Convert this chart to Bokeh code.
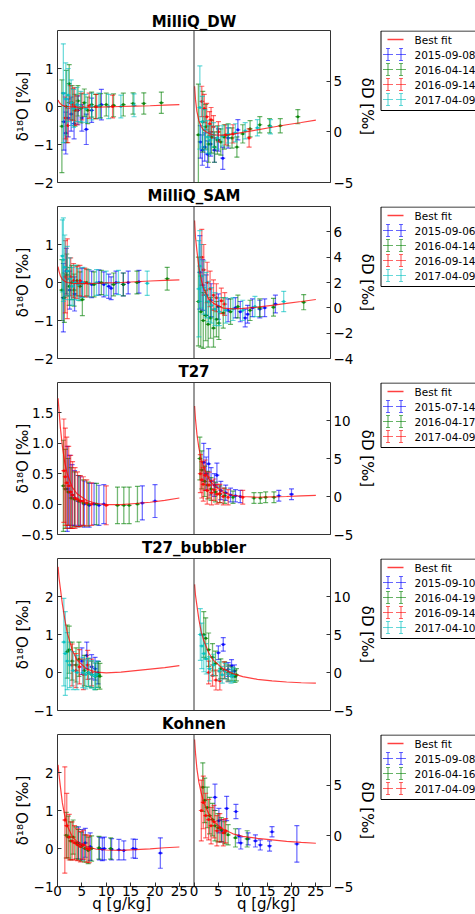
import numpy as np
from bokeh.plotting import figure
from bokeh.models import (Range1d, LinearAxis, FixedTicker, CustomJSTickFormatter,
                          ColumnDataSource, Span, Title)
from bokeh.core.properties import value
from bokeh.layouts import column, row
from bokeh.embed import file_html
from bokeh.resources import INLINE

FONT = "DejaVu Sans"
BLUE, GREEN, RED, CYAN = "#0000ff", "#008000", "#ff0000", "#00bfbf"

# ---------------- fit curves (q grid shared) ----------------
FIT_q = [0.12, 0.3, 0.6, 1.0, 1.5, 2.0, 3.0, 4.0, 6.0, 8.0, 10.0, 13.0, 16.0, 19.0, 22.0, 25.0]
DW_fit_o = [0.17, 0.12, 0.07, 0.03, 0.01, 0.0, -0.01, -0.02, -0.02, -0.02, -0.01, 0.0, 0.01, 0.02, 0.035, 0.05]
DW_fit_d = [4.5, 3.2, 2.0, 1.1, 0.5, 0.15, -0.15, -0.3, -0.33, -0.22, -0.05, 0.2, 0.45, 0.7, 0.92, 1.15]
SAM_fit_o = [0.42, 0.3, 0.17, 0.08, 0.03, 0.0, -0.02, -0.03, -0.03, -0.02, -0.01, 0.0, 0.02, 0.04, 0.055, 0.07]
SAM_fit_d = [6.9, 5.6, 4.5, 3.2, 2.2, 1.5, 0.7, 0.35, -0.02, -0.08, -0.05, 0.05, 0.2, 0.35, 0.5, 0.66]
T27_fit_o = [1.74, 1.55, 1.25, 0.95, 0.68, 0.5, 0.28, 0.17, 0.06, 0.01, -0.01, -0.01, 0.01, 0.03, 0.06, 0.1]
T27_fit_d = [11.9, 10.2, 8.2, 6.4, 4.9, 3.8, 2.4, 1.5, 0.55, 0.15, 0.0, -0.1, -0.05, 0.0, 0.08, 0.15]
BUB_fit_o = [2.78, 2.5, 2.2, 1.8, 1.4, 1.05, 0.6, 0.33, 0.09, 0.01, -0.01, 0.01, 0.05, 0.09, 0.13, 0.18]
BUB_fit_d = [11.6, 10.2, 8.8, 7.0, 5.3, 4.2, 2.6, 1.6, 0.45, -0.15, -0.55, -0.9, -1.1, -1.25, -1.35, -1.4]
KOH_fit_o = [2.2, 1.95, 1.62, 1.2, 0.85, 0.6, 0.32, 0.18, 0.05, -0.02, -0.04, -0.05, -0.03, -0.01, 0.02, 0.04]
KOH_fit_d = [9.5, 8.2, 6.6, 5.3, 4.2, 3.3, 2.2, 1.4, 0.65, 0.2, -0.05, -0.25, -0.4, -0.55, -0.65, -0.73]

# ---------------- MilliQ_DW ----------------
DW_0908_q = [1.3, 1.7, 2.2, 2.8, 3.4, 4.2, 5.0, 5.9, 7.0, 9.0]
DW_0908_o = [-0.40, -0.70, -0.30, -0.20, -0.45, -0.10, -0.30, -0.60, -0.10, 0.05]
DW_0908_oe = [0.75, 0.55, 0.50, 0.45, 0.40, 0.38, 0.35, 0.40, 0.32, 0.40]
DW_0908_d = [-1.0, -1.8, -1.5, -2.2, -1.2, -1.8, -0.8, -2.6, -0.6, 0.2]
DW_0908_de = [1.6, 1.5, 1.4, 1.3, 1.2, 1.2, 1.1, 1.1, 1.0, 1.0]

DW_0414_q = [0.9, 1.8, 2.4, 3.0, 3.6, 4.2, 4.8, 5.5, 6.2, 7.0, 7.8, 8.8, 10.0, 11.5, 13.5, 15.5, 17.7, 21.3]
DW_0414_o = [-0.52, 0.0, 0.6, 0.1, -0.1, 0.15, -0.05, 0.1, -0.1, 0.05, 0.0, 0.02, 0.05, 0.03, 0.05, 0.08, 0.08, 0.1]
DW_0414_oe = [1.22, 0.95, 0.5, 0.45, 0.42, 0.4, 0.38, 0.36, 0.35, 0.33, 0.32, 0.32, 0.3, 0.3, 0.3, 0.28, 0.28, 0.28]
DW_0414_d = [-0.3, 1.0, 0.5, -1.2, -0.5, -1.5, -0.8, -1.0, -0.5, -0.3, -0.6, -1.5, -0.2, 0.3, 0.7, 0.6, 0.6, 1.5]
DW_0414_de = [5.0, 3.0, 2.2, 1.8, 1.6, 1.5, 1.4, 1.3, 1.2, 1.1, 1.0, 1.0, 0.9, 0.8, 0.8, 0.7, 0.7, 0.7]

DW_0914_q = [1.6, 2.1, 2.6, 3.2, 3.5, 4.0, 5.0, 6.5, 8.0, 11.3]
DW_0914_o = [-0.3, -0.5, 0.1, 0.05, 0.0, -0.1, 0.0, 0.02, 0.0, 0.0]
DW_0914_oe = [0.55, 0.45, 0.45, 0.42, 0.5, 0.38, 0.35, 0.33, 0.32, 0.3]
DW_0914_d = [3.0, 2.3, 1.5, 0.8, 1.2, 0.5, 0.0, -0.3, -0.2, -0.6]
DW_0914_de = [1.5, 1.4, 1.3, 1.2, 1.2, 1.1, 1.0, 1.0, 0.9, 0.9]

DW_0409_q = [1.2, 1.7, 2.2, 2.8, 3.3, 4.0, 4.8, 5.8, 7.0, 8.5, 10.5, 13.0, 15.7]
DW_0409_o = [0.35, 0.2, 0.3, 0.1, -0.05, 0.05, 0.0, -0.05, 0.0, 0.02, 0.0, 0.0, 0.03]
DW_0409_oe = [1.3, 0.95, 0.7, 0.6, 0.5, 0.45, 0.4, 0.37, 0.35, 0.33, 0.32, 0.3, 0.3]
DW_0409_d = [2.4, 1.0, 0.2, -0.5, -0.8, -0.3, -0.6, -0.4, -0.2, -0.1, 0.1, 0.4, 0.5]
DW_0409_de = [4.1, 2.5, 2.0, 1.6, 1.4, 1.2, 1.1, 1.0, 0.9, 0.9, 0.8, 0.8, 0.7]

# ---------------- MilliQ_SAM ----------------
SAM_0906_q = [1.2, 1.8, 2.5, 3.5, 5.0, 7.0, 8.5, 9.5, 10.5, 11.0, 12.0, 13.5, 14.5, 16.7]
SAM_0906_o = [-0.4, 0.3, -0.2, -0.3, 0.0, -0.05, 0.0, -0.05, -0.1, -0.15, 0.0, -0.05, 0.0, 0.02]
SAM_0906_oe = [0.9, 0.6, 0.5, 0.45, 0.38, 0.35, 0.33, 0.33, 0.32, 0.3, 0.3, 0.3, 0.3, 0.3]
SAM_0906_d = [2.8, 1.8, 1.0, 0.6, 0.1, -0.2, 0.0, -0.3, -0.8, -0.5, 0.0, -0.1, 0.0, 0.3]
SAM_0906_de = [2.9, 2.0, 1.6, 1.3, 1.0, 0.9, 0.8, 0.8, 0.7, 0.7, 0.7, 0.7, 0.7, 0.7]

SAM_0414_q = [0.9, 1.4, 1.9, 2.4, 2.9, 3.4, 4.0, 4.6, 5.1, 6.0, 7.5, 9.0, 11.5, 13.5, 16.3, 22.5]
SAM_0414_o = [-0.2, -0.4, 0.2, -0.1, 0.0, -0.2, 0.05, -0.1, -0.45, 0.0, -0.05, 0.0, -0.05, -0.05, 0.0, 0.1]
SAM_0414_oe = [0.8, 0.65, 0.55, 0.5, 0.45, 0.42, 0.4, 0.38, 0.42, 0.35, 0.33, 0.32, 0.3, 0.3, 0.3, 0.3]
SAM_0414_d = [0.5, -0.3, -1.0, -0.6, -1.3, -0.8, -1.6, -0.9, -1.2, -0.4, -0.3, 0.1, -0.2, 0.0, 0.05, 0.45]
SAM_0414_de = [3.5, 2.8, 2.2, 2.0, 1.8, 1.6, 1.5, 1.4, 1.3, 1.2, 1.0, 0.9, 0.8, 0.7, 0.7, 0.6]

SAM_0914_q = [1.6, 2.0, 2.7, 3.3, 4.0, 4.6, 5.6, 6.3]
SAM_0914_o = [0.15, 0.1, 0.15, 0.05, 0.0, 0.05, 0.0, -0.02]
SAM_0914_oe = [0.95, 1.05, 0.5, 0.45, 0.42, 0.4, 0.38, 0.36]
SAM_0914_d = [4.0, 3.0, 2.0, 1.5, 1.0, 0.8, 0.55, 0.3]
SAM_0914_de = [2.2, 2.0, 1.6, 1.4, 1.2, 1.1, 1.0, 0.9]

SAM_0409_q = [1.0, 1.2, 1.5, 2.0, 2.5, 3.0, 3.6, 4.3, 5.2, 6.5, 8.0, 10.0, 12.5, 18.4]
SAM_0409_o = [0.7, 0.6, 0.4, 0.3, 0.1, -0.1, 0.0, -0.05, 0.0, -0.02, 0.0, -0.02, 0.0, -0.02]
SAM_0409_oe = [0.95, 1.1, 0.85, 0.65, 0.55, 0.5, 0.45, 0.42, 0.4, 0.36, 0.34, 0.32, 0.32, 0.32]
SAM_0409_d = [1.5, 3.3, 2.5, 1.6, 1.0, 0.5, 0.2, -0.1, -0.3, -0.2, -0.1, -0.2, 0.1, 0.5]
SAM_0409_de = [3.8, 2.8, 2.5, 2.1, 1.8, 1.6, 1.4, 1.3, 1.1, 1.0, 0.9, 0.8, 0.8, 0.8]

# ---------------- T27 ----------------
T27_0714_q = [2.0, 2.5, 3.0, 3.5, 4.2, 4.7, 5.5, 6.5, 7.5, 8.5, 9.5, 17.4, 20.0]
T27_0714_o = [0.25, 0.2, 0.15, 0.1, 0.05, 0.05, 0.0, -0.02, 0.0, -0.02, 0.0, 0.02, 0.05]
T27_0714_oe = [0.7, 0.6, 0.5, 0.45, 0.42, 0.4, 0.38, 0.36, 0.34, 0.33, 0.32, 0.28, 0.27]
T27_0714_d = [4.5, 3.0, 4.3, 2.0, 1.5, 2.8, 0.8, 0.5, 0.2, 0.1, 0.0, 0.1, 0.3]
T27_0714_de = [2.5, 2.2, 2.0, 1.8, 1.5, 1.6, 1.2, 1.0, 0.9, 0.8, 0.8, 0.7, 0.7]

T27_0417_q = [1.2, 1.6, 2.2, 2.8, 3.5, 4.4, 5.3, 6.3, 8.0, 12.3, 13.6, 14.7, 16.4]
T27_0417_o = [0.3, 0.25, 0.2, 0.1, 0.08, 0.05, 0.02, 0.0, 0.0, -0.02, -0.02, -0.02, 0.0]
T27_0417_oe = [0.75, 0.65, 0.55, 0.5, 0.45, 0.42, 0.38, 0.36, 0.34, 0.3, 0.3, 0.3, 0.29]
T27_0417_d = [5.0, 3.5, 2.0, 1.5, 1.0, 0.6, 0.3, 0.1, -0.1, -0.2, -0.2, -0.1, -0.1]
T27_0417_de = [2.8, 2.5, 2.0, 1.8, 1.5, 1.3, 1.1, 1.0, 0.8, 0.7, 0.7, 0.7, 0.7]

T27_0409_q = [1.3, 1.6, 1.9, 2.3, 2.7, 3.1, 3.6, 4.1, 4.7, 5.3, 6.0, 7.0, 10.0]
T27_0409_o = [0.55, 0.45, 0.35, 0.3, 0.2, 0.15, 0.1, 0.08, 0.05, 0.05, 0.02, 0.0, -0.02]
T27_0409_oe = [0.85, 0.8, 0.75, 0.65, 0.6, 0.55, 0.5, 0.45, 0.42, 0.4, 0.38, 0.35, 0.32]
T27_0409_d = [3.0, 2.2, 1.6, 2.8, 0.8, 1.5, 0.5, 0.9, 0.3, 0.4, 0.0, -0.1, -0.1]
T27_0409_de = [2.5, 2.4, 2.2, 2.0, 1.8, 1.7, 1.6, 1.4, 1.3, 1.2, 1.1, 1.0, 0.9]

# ---------------- T27_bubbler ----------------
BUB_0910_q = [5.0, 6.0, 7.0, 7.7, 8.3]
BUB_0910_o = [0.3, 0.45, 0.15, 0.1, 0.0]
BUB_0910_oe = [0.35, 0.35, 0.32, 0.3, 0.3]
BUB_0910_d = [2.6, 3.7, 0.4, 0.9, 0.2]
BUB_0910_de = [0.9, 0.9, 0.9, 0.8, 0.8]

BUB_0419_q = [2.0, 2.4, 3.0, 3.8, 4.4, 5.5, 6.3, 7.0, 7.8, 8.4, 8.7]
BUB_0419_o = [0.55, 0.6, 0.3, 0.2, 0.35, 0.05, 0.0, -0.05, -0.1, -0.05, -0.1]
BUB_0419_oe = [0.7, 0.62, 0.5, 0.45, 0.45, 0.4, 0.37, 0.35, 0.35, 0.34, 0.34]
BUB_0419_d = [5.0, 4.5, 3.0, 2.0, 1.2, 0.5, 0.3, 0.0, -0.2, -0.5, -0.3]
BUB_0419_de = [3.0, 2.7, 2.2, 1.8, 1.6, 1.3, 1.1, 1.0, 0.9, 0.8, 0.8]

BUB_0914_q = [3.0, 3.8, 4.5, 5.3, 6.2, 7.0]
BUB_0914_o = [0.2, 0.05, 0.15, -0.05, 0.2, 0.0]
BUB_0914_oe = [0.55, 0.45, 0.45, 0.4, 0.38, 0.35]
BUB_0914_d = [0.0, -0.4, -1.0, -1.1, 0.3, -0.2]
BUB_0914_de = [1.5, 1.4, 1.3, 1.2, 1.1, 1.0]

BUB_0410_q = [1.3, 1.6, 2.0, 2.5, 3.2, 4.0, 5.2, 5.8, 6.4, 7.0, 7.6, 8.1]
BUB_0410_o = [0.8, 0.5, 0.3, 0.2, 0.05, 0.0, 0.0, -0.05, 0.0, -0.05, -0.1, -0.05]
BUB_0410_oe = [1.15, 1.1, 0.75, 0.6, 0.5, 0.45, 0.4, 0.38, 0.37, 0.36, 0.35, 0.35]
BUB_0410_d = [5.0, 3.5, 2.5, 1.8, 0.5, 1.0, 0.2, -0.3, 0.2, -0.2, -0.5, -0.3]
BUB_0410_de = [3.4, 3.0, 2.4, 2.0, 1.6, 1.4, 1.2, 1.1, 1.0, 1.0, 0.9, 0.9]

# ---------------- Kohnen ----------------
KOH_0908_q = [4.3, 5.1, 5.7, 6.7, 8.6, 9.2, 9.6, 11.1, 12.6, 13.6, 15.5, 16.0, 21.1]
KOH_0908_o = [0.15, 0.1, 0.15, 0.05, 0.0, -0.02, 0.0, -0.02, -0.03, -0.05, 0.0, -0.01, -0.12]
KOH_0908_oe = [0.42, 0.4, 0.38, 0.36, 0.3, 0.3, 0.3, 0.28, 0.27, 0.25, 0.25, 0.25, 0.4]
KOH_0908_d = [3.8, 1.5, 0.5, 2.7, 2.4, 0.0, -0.7, -0.3, -0.5, -0.9, -1.0, 0.4, -0.8]
KOH_0908_de = [1.3, 1.2, 1.1, 1.2, 0.7, 0.7, 0.6, 0.6, 0.6, 0.5, 0.5, 0.5, 1.8]

KOH_0416_q = [1.8, 2.2, 2.7, 3.2, 3.8, 4.3, 4.9, 5.6, 6.3, 7.0, 8.5, 10.9]
KOH_0416_o = [0.35, 0.3, 0.2, 0.3, 0.15, 0.1, 0.05, 0.0, -0.05, 0.0, 0.02, 0.0]
KOH_0416_oe = [0.6, 0.55, 0.5, 0.45, 0.42, 0.4, 0.38, 0.36, 0.35, 0.33, 0.3, 0.28]
KOH_0416_d = [4.8, 3.5, 2.8, 2.0, 1.6, 1.0, 0.8, 0.6, 0.3, 0.1, -0.2, -0.3]
KOH_0416_de = [2.4, 2.2, 2.0, 1.8, 1.6, 1.5, 1.4, 1.2, 1.1, 1.0, 0.9, 0.8]

KOH_0409_q = [1.5, 1.9, 2.4, 3.0, 3.5, 4.1, 4.7, 5.3, 6.0, 6.5]
KOH_0409_o = [0.75, 0.6, 0.3, 0.2, 0.15, 0.1, 0.05, 0.1, 0.0, -0.02]
KOH_0409_oe = [1.4, 0.85, 0.6, 0.5, 0.45, 0.42, 0.4, 0.38, 0.36, 0.35]
KOH_0409_d = [2.5, 3.3, 2.0, 1.6, 1.0, 1.4, 0.5, 0.8, 0.3, 0.5]
KOH_0409_de = [3.0, 2.6, 2.2, 2.0, 1.8, 1.6, 1.5, 1.4, 1.3, 1.2]

X_LABEL = "q [g/kg]"
FIT_LABEL = "Best fit"

ROWS = [
    dict(title="MilliQ_DW", gap=30, o_range=(-2, 2), d_range=(-5, 10),
         o_ticks=[-2, -1, 0, 1], d_ticks=[-5, 0, 5], dec=0, lab_off=-1,
         fit=(FIT_q, DW_fit_o, DW_fit_d),
         series=[("2015-09-08", BLUE, DW_0908_q, DW_0908_o, DW_0908_oe, DW_0908_d, DW_0908_de),
                 ("2016-04-14", GREEN, DW_0414_q, DW_0414_o, DW_0414_oe, DW_0414_d, DW_0414_de),
                 ("2016-09-14", RED, DW_0914_q, DW_0914_o, DW_0914_oe, DW_0914_d, DW_0914_de),
                 ("2017-04-09", CYAN, DW_0409_q, DW_0409_o, DW_0409_oe, DW_0409_d, DW_0409_de)]),
    dict(title="MilliQ_SAM", gap=22, o_range=(-2, 2), d_range=(-4, 8),
         o_ticks=[-2, -1, 0, 1], d_ticks=[-4, -2, 0, 2, 4, 6], dec=0, lab_off=-1,
         fit=(FIT_q, SAM_fit_o, SAM_fit_d),
         series=[("2015-09-06", BLUE, SAM_0906_q, SAM_0906_o, SAM_0906_oe, SAM_0906_d, SAM_0906_de),
                 ("2016-04-14", GREEN, SAM_0414_q, SAM_0414_o, SAM_0414_oe, SAM_0414_d, SAM_0414_de),
                 ("2016-09-14", RED, SAM_0914_q, SAM_0914_o, SAM_0914_oe, SAM_0914_d, SAM_0914_de),
                 ("2017-04-09", CYAN, SAM_0409_q, SAM_0409_o, SAM_0409_oe, SAM_0409_d, SAM_0409_de)]),
    dict(title="T27", gap=23, o_range=(-0.5, 2.0), d_range=(-5, 15),
         o_ticks=[-0.5, 0.0, 0.5, 1.0, 1.5], d_ticks=[-5, 0, 5, 10], dec=1, lab_off=-14,
         fit=(FIT_q, T27_fit_o, T27_fit_d),
         series=[("2015-07-14", BLUE, T27_0714_q, T27_0714_o, T27_0714_oe, T27_0714_d, T27_0714_de),
                 ("2016-04-17", GREEN, T27_0417_q, T27_0417_o, T27_0417_oe, T27_0417_d, T27_0417_de),
                 ("2017-04-09", RED, T27_0409_q, T27_0409_o, T27_0409_oe, T27_0409_d, T27_0409_de)]),
    dict(title="T27_bubbler", gap=23, o_range=(-1, 3), d_range=(-5, 15),
         o_ticks=[-1, 0, 1, 2], d_ticks=[-5, 0, 5, 10], dec=0, lab_off=-1,
         fit=(FIT_q, BUB_fit_o, BUB_fit_d),
         series=[("2015-09-10", BLUE, BUB_0910_q, BUB_0910_o, BUB_0910_oe, BUB_0910_d, BUB_0910_de),
                 ("2016-04-19", GREEN, BUB_0419_q, BUB_0419_o, BUB_0419_oe, BUB_0419_d, BUB_0419_de),
                 ("2016-09-14", RED, BUB_0914_q, BUB_0914_o, BUB_0914_oe, BUB_0914_d, BUB_0914_de),
                 ("2017-04-10", CYAN, BUB_0410_q, BUB_0410_o, BUB_0410_oe, BUB_0410_d, BUB_0410_de)]),
    dict(title="Kohnen", gap=23, o_range=(-1, 3), d_range=(-5, 10),
         o_ticks=[-1, 0, 1, 2], d_ticks=[-5, 0, 5], dec=0, lab_off=-1,
         fit=(FIT_q, KOH_fit_o, KOH_fit_d),
         series=[("2015-09-08", BLUE, KOH_0908_q, KOH_0908_o, KOH_0908_oe, KOH_0908_d, KOH_0908_de),
                 ("2016-04-16", GREEN, KOH_0416_q, KOH_0416_o, KOH_0416_oe, KOH_0416_d, KOH_0416_de),
                 ("2017-04-09", RED, KOH_0409_q, KOH_0409_o, KOH_0409_oe, KOH_0409_d, KOH_0409_de)]),
]

X_TICKS = [0, 5, 10, 15, 20, 25]
SPLIT = 28  # each panel spans q in [0, 28]
FRAME_W, FRAME_H = 273, 152
LEG_W = 98
TICK_FS, LAB_FS = "13.5px", "15px"


def style_axis(ax, standoff):
    ax.major_tick_in = 4
    ax.major_tick_out = 0
    ax.minor_tick_line_color = None
    ax.axis_line_color = None
    ax.major_tick_line_color = "#333333"
    ax.major_label_text_font = FONT
    ax.major_label_text_font_size = TICK_FS
    ax.major_label_text_color = "black"
    ax.major_label_standoff = standoff
    ax.axis_label_text_font = FONT
    ax.axis_label_text_font_size = LAB_FS
    ax.axis_label_text_font_style = "normal"
    ax.axis_label_text_color = "black"


def y_fmt(dec):
    return CustomJSTickFormatter(code=(
        "const v = Math.abs(tick) < 1e-9 ? 0 : tick;"
        f"const s = Math.abs(v).toFixed({dec});"
        "return (v < 0 ? '\u2212' : '') + s;"))


def style_title(t):
    t.text_font = FONT
    t.text_font_size = "15px"
    t.text_font_style = "bold"
    t.text_color = "black"
    t.align = "center"


def draw_errorbars(p, q, val, err, color, **rng):
    v = np.asarray(val, dtype=float)
    e = np.asarray(err, dtype=float)
    src = ColumnDataSource(dict(x=list(q), y=list(v), lo=list(v - e), hi=list(v + e)))
    p.segment(x0="x", y0="lo", x1="x", y1="hi", source=src, line_color=color,
              line_alpha=0.55, line_width=1.3, **rng)
    for col in ("lo", "hi", "y"):
        p.scatter(x="x", y=col, source=src, marker="dash", size=5, line_color=color,
                  line_alpha=0.6, line_width=1.2, **rng)
    p.scatter(x="x", y="y", source=src, marker="circle", size=3, fill_color=color,
              line_color=None, fill_alpha=0.85, **rng)


def borders(idx):
    top = ROWS[idx]["gap"] if idx == 0 else 0
    bottom = 32 if idx == len(ROWS) - 1 else ROWS[idx + 1]["gap"]
    return top, bottom


def make_main(idx):
    cfg = ROWS[idx]
    first = idx == 0
    last = idx == len(ROWS) - 1
    top, bottom = borders(idx)
    p = figure(frame_width=FRAME_W, frame_height=FRAME_H,
               min_border_left=57, min_border_right=47,
               min_border_top=top, min_border_bottom=bottom,
               x_range=Range1d(0, 2 * SPLIT), y_range=Range1d(*cfg["o_range"]),
               x_axis_type=None, y_axis_type=None,
               output_backend="svg", toolbar_location=None,
               title=(cfg["title"] if first else None))
    p.extra_x_ranges = {"xr": Range1d(-SPLIT, SPLIT)}
    p.extra_y_ranges = {"dD": Range1d(*cfg["d_range"])}
    p.background_fill_color = "white"
    p.border_fill_color = "white"
    p.outline_line_color = "#333333"
    p.outline_line_width = 1
    if first:
        style_title(p.title)
        p.title.standoff = 0

    la = LinearAxis(ticker=FixedTicker(ticks=cfg["o_ticks"]), formatter=y_fmt(cfg["dec"]),
                    axis_label="δ¹⁸O [‰]")
    style_axis(la, 4)
    la.axis_label_standoff = cfg["lab_off"]
    p.add_layout(la, "left")

    ra = LinearAxis(y_range_name="dD", ticker=FixedTicker(ticks=cfg["d_ticks"]),
                    formatter=y_fmt(0), axis_label="δD [‰]")
    style_axis(ra, 3)
    ra.axis_label_standoff = 2
    p.add_layout(ra, "right")

    if last:
        ticks = X_TICKS + [t + SPLIT for t in X_TICKS]
        ba = LinearAxis(ticker=FixedTicker(ticks=ticks), formatter=CustomJSTickFormatter(
            code=f"const v = tick > {SPLIT - 1} ? tick - {SPLIT} : tick; return Math.round(v).toString();"),
            axis_label=X_LABEL + "\u00a0" * 18 + X_LABEL)
        style_axis(ba, -1)
        ba.axis_label_standoff = -4
        p.add_layout(ba, "below")
    else:
        nt = Title(text=ROWS[idx + 1]["title"], standoff=4)
        style_title(nt)
        p.add_layout(nt, "below")

    p.add_layout(Span(location=SPLIT, dimension="height", line_color="#333333", line_width=1))

    right = dict(x_range_name="xr", y_range_name="dD")
    for label, color, q, o, oe, d, de in cfg["series"]:
        draw_errorbars(p, q, o, oe, color)
        draw_errorbars(p, q, d, de, color, **right)

    fq, fo, fd = cfg["fit"]
    p.line(fq, fo, line_color=RED, line_alpha=0.75, line_width=1.2)
    p.line(fq, fd, line_color=RED, line_alpha=0.75, line_width=1.2, **right)
    return p


def make_legend(idx):
    """Legend drawn as a small separate panel to the right of the row (layout in px units)."""
    cfg = ROWS[idx]
    top, bottom = borders(idx)
    L = figure(frame_width=LEG_W, frame_height=FRAME_H,
               min_border_left=0, min_border_right=0,
               min_border_top=top, min_border_bottom=bottom,
               x_range=Range1d(0, LEG_W), y_range=Range1d(0, FRAME_H),
               x_axis_type=None, y_axis_type=None,
               output_backend="svg", toolbar_location=None)
    L.outline_line_color = None
    L.background_fill_color = "white"
    L.border_fill_color = "white"
    labels = [FIT_LABEL] + [s[0] for s in cfg["series"]]
    colors = [s[1] for s in cfg["series"]]
    n = len(labels)
    ys = [FRAME_H - 9 - 15 * i for i in range(n)]
    box_top = FRAME_H - 0.5
    box_bot = FRAME_H - (9 + 15 * (n - 1) + 11)
    L.line(x=[LEG_W + 10, 1.5, 1.5, LEG_W + 10], y=[box_top, box_top, box_bot, box_bot],
           line_color="black", line_width=1)
    # best-fit sample line
    L.line(x=[8, 24], y=[ys[0], ys[0]], line_color=RED, line_alpha=0.75, line_width=1.3)
    for i, color in enumerate(colors):
        y = ys[i + 1]
        cx = [8.5, 21.5]
        L.segment(x0=[c - 5 for c in cx], y0=[y, y], x1=[c + 5 for c in cx], y1=[y, y],
                  line_color=color, line_alpha=0.6, line_width=1.2)
        L.segment(x0=cx, y0=[y - 6, y - 6], x1=cx, y1=[y + 6, y + 6],
                  line_color=color, line_alpha=0.6, line_width=1.2)
        L.scatter(x=cx + cx, y=[y - 6, y - 6, y + 6, y + 6], marker="dash", size=4,
                  line_color=color, line_alpha=0.6, line_width=1.2)
    L.text(x=[35] * n, y=ys, text=labels, text_font=value(FONT),
           text_font_size=value("10.5px"), text_baseline="middle", text_align="left",
           text_color="black")
    return L


rows = [row(make_main(i), make_legend(i), spacing=0) for i in range(len(ROWS))]
layout = column(*rows, spacing=0)

with open("out.html", "w", encoding="utf-8") as f:
    f.write(file_html(layout, INLINE))
